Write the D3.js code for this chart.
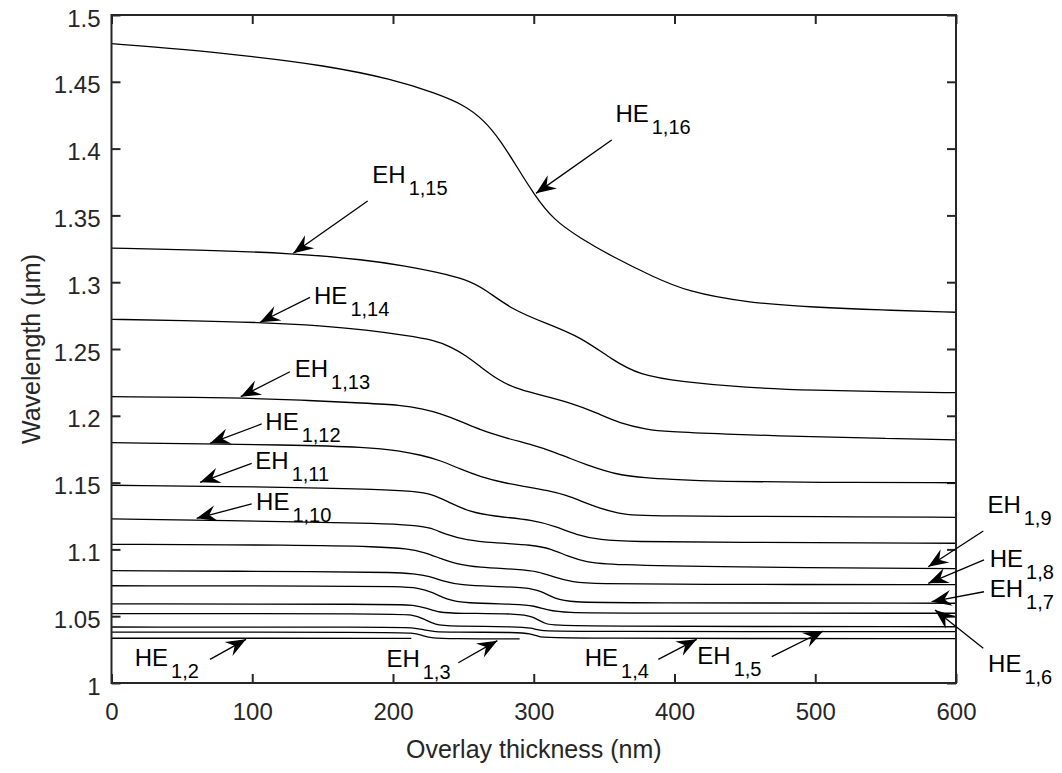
<!DOCTYPE html>
<html>
<head>
<meta charset="utf-8">
<script src="https://cdn.jsdelivr.net/npm/d3@7"></script>
<style>
  body { margin: 0; background: #fff; }
  text { font-family: "Liberation Sans", Arial, Helvetica, sans-serif; fill: #262626; }
</style>
</head>
<body>
<svg id="chart" width="1062" height="773"></svg>
<script>
// axis ticks
var thicknessTicks = [0, 100, 200, 300, 400, 500, 600];
var wavelengthTicks = [1, 1.05, 1.1, 1.15, 1.2, 1.25, 1.3, 1.35, 1.4, 1.45, 1.5];

// resonance wavelength (um) vs overlay thickness (nm)
var HE1_16 = [[0,1.4785],[50,1.4745],[100,1.4690],[150,1.4625],[200,1.4520],[230,1.4415],[250,1.4330],[265,1.4210],[276,1.4065],[288,1.3865],[300,1.3660],[314,1.3466],[333,1.3330],[356,1.3190],[385,1.3040],[409,1.2930],[451,1.2847],[500,1.2812],[546,1.2792],[600,1.2775]];
var EH1_15 = [[0,1.3255],[60,1.3243],[130,1.3216],[180,1.3168],[210,1.3120],[230,1.3078],[252,1.3022],[265,1.2950],[285,1.2792],[309,1.2692],[333,1.2592],[356,1.2418],[375,1.2305],[405,1.2255],[450,1.2210],[500,1.2190],[550,1.2180],[600,1.2173]];
var HE1_14 = [[0,1.2722],[50,1.2714],[105,1.2700],[150,1.2675],[181,1.2642],[210,1.2600],[229,1.2567],[241,1.2517],[252,1.2450],[262,1.2368],[274,1.2273],[287,1.2205],[300,1.2168],[328,1.2093],[345,1.2020],[361,1.1944],[380,1.1898],[395,1.1881],[432,1.1864],[500,1.1842],[550,1.1830],[600,1.1820]];
var EH1_13 = [[0,1.2143],[90,1.2135],[134,1.2118],[181,1.2094],[205,1.2081],[222,1.2050],[233,1.2019],[248,1.1960],[262,1.1894],[281,1.1832],[300,1.1780],[314,1.1731],[326,1.1680],[338,1.1632],[350,1.1590],[361,1.1557],[380,1.1535],[395,1.1525],[432,1.1507],[500,1.1502],[600,1.1499]];
var HE1_12 = [[0,1.1799],[134,1.1781],[180,1.1765],[205,1.1739],[220,1.1705],[233,1.1669],[248,1.1600],[262,1.1544],[280,1.1495],[295,1.1469],[310,1.1440],[323,1.1407],[335,1.1355],[347,1.1308],[360,1.1270],[371,1.1255],[400,1.1250],[432,1.1248],[500,1.1245],[600,1.1240]];
var EH1_11 = [[0,1.1480],[134,1.1465],[190,1.1450],[215,1.1435],[228,1.1415],[241,1.1345],[255,1.1280],[270,1.1250],[300,1.1220],[316,1.1170],[330,1.1110],[347,1.1070],[370,1.1058],[432,1.1053],[600,1.1046]];
var HE1_10 = [[0,1.1228],[134,1.1207],[190,1.1195],[215,1.1180],[226,1.1165],[238,1.1110],[252,1.1070],[270,1.1050],[300,1.1033],[312,1.1005],[324,1.0950],[337,1.0905],[355,1.0885],[432,1.0868],[600,1.0856]];
var EH1_9 = [[0,1.1038],[134,1.1033],[190,1.1020],[210,1.1005],[222,1.0980],[233,1.0935],[245,1.0890],[260,1.0865],[290,1.0850],[303,1.0835],[315,1.0790],[327,1.0755],[345,1.0742],[400,1.0738],[600,1.0736]];
var HE1_8 = [[0,1.0841],[162,1.0833],[200,1.0828],[215,1.0818],[226,1.0800],[236,1.0760],[248,1.0733],[270,1.0722],[295,1.0716],[305,1.0690],[315,1.0630],[327,1.0605],[360,1.0600],[600,1.0597]];
var EH1_7 = [[0,1.0728],[162,1.0726],[205,1.0722],[218,1.0712],[228,1.0680],[238,1.0625],[250,1.0597],[290,1.0590],[300,1.0578],[310,1.0545],[322,1.0526],[360,1.0523],[600,1.0522]];
var HE1_6 = [[0,1.0592],[200,1.0590],[215,1.0585],[224,1.0560],[233,1.0527],[245,1.0521],[290,1.0519],[299,1.0500],[308,1.0440],[318,1.0424],[600,1.0421]];
var EH1_5 = [[0,1.0520],[200,1.0519],[214,1.0512],[222,1.0480],[230,1.0435],[240,1.0425],[290,1.0422],[298,1.0412],[305,1.0392],[315,1.0385],[600,1.0384]];
var HE1_4 = [[0,1.0419],[200,1.0418],[214,1.0414],[222,1.0398],[230,1.0383],[240,1.0381],[290,1.0379],[297,1.0370],[304,1.0345],[312,1.0334],[600,1.0332]];
var EH1_3 = [[0,1.0381],[200,1.0380],[214,1.0376],[221,1.0355],[228,1.0335],[240,1.0331],[290,1.0330]];
var HE1_2 = [[0,1.0335],[100,1.0335],[213,1.0334]];

var modes = [HE1_16, EH1_15, HE1_14, EH1_13, HE1_12, EH1_11, HE1_10, EH1_9, HE1_8, EH1_7, HE1_6, EH1_5, HE1_4, EH1_3, HE1_2];

// mode labels: text anchor, arrow tail and arrow tip, in data units
var annotations = [
  {main: 'HE', sub: '1,16', at: [358, 1.4201], from: [355.4, 1.4064], to: [301.6, 1.3665]},
  {main: 'EH', sub: '1,15', at: [185.3, 1.3740], from: [182.0, 1.3608], to: [129.2, 1.3216]},
  {main: 'HE', sub: '1,14', at: [143.9, 1.2837], from: [141.0, 1.2887], to: [105.5, 1.2700]},
  {main: 'EH', sub: '1,13', at: [130.2, 1.2293], from: [126.8, 1.2330], to: [91.8, 1.2143]},
  {main: 'HE', sub: '1,12', at: [109.3, 1.1894], from: [106.7, 1.1939], to: [70.0, 1.1794]},
  {main: 'EH', sub: '1,11', at: [102.2, 1.1600], from: [99.6, 1.1644], to: [62.9, 1.1502]},
  {main: 'HE', sub: '1,10', at: [102.7, 1.1295], from: [99.6, 1.1340], to: [60.5, 1.1233]},
  {main: 'EH', sub: '1,9', at: [622.3, 1.1270], from: [619.4, 1.1138], to: [580.3, 1.0870]},
  {main: 'HE', sub: '1,8', at: [624.0, 1.0870], from: [619.9, 1.0921], to: [580.3, 1.0746]},
  {main: 'EH', sub: '1,7', at: [624.0, 1.0646], from: [619.9, 1.0683], to: [582.7, 1.0609]},
  {main: 'HE', sub: '1,6', at: [622.8, 1.0085], from: [619.4, 1.0260], to: [585.1, 1.0546]},
  {main: 'EH', sub: '1,5', at: [416.2, 1.0142], from: [469.1, 1.0197], to: [505.7, 1.0389]},
  {main: 'HE', sub: '1,4', at: [336.2, 1.0129], from: [388.5, 1.0177], to: [415.8, 1.0327]},
  {main: 'EH', sub: '1,3', at: [195.3, 1.0122], from: [246.4, 1.0152], to: [274.1, 1.0317]},
  {main: 'HE', sub: '1,2', at: [16.5, 1.0129], from: [70.0, 1.0177], to: [95.6, 1.0327]}
];

var plotLeft = 111.5, plotRight = 956, plotTop = 15, plotBottom = 683;
var ink = '#262626';

var svg = d3.select('#chart');

var x = d3.scaleLinear().domain([0, 600]).range([plotLeft, plotRight]);
var y = d3.scaleLinear().domain([1, 1.5]).range([plotBottom, plotTop]);

var fmt = function (d) { return String(+d.toFixed(2)); };

// axes with inward ticks on all four sides
var xAxis = svg.append('g')
  .attr('transform', 'translate(0,' + plotBottom + ')')
  .call(d3.axisBottom(x).tickValues(thicknessTicks).tickSizeInner(-9).tickSizeOuter(0).tickPadding(20).tickFormat(fmt));

var yAxis = svg.append('g')
  .attr('transform', 'translate(' + plotLeft + ',0)')
  .call(d3.axisLeft(y).tickValues(wavelengthTicks).tickSizeInner(-9).tickSizeOuter(0).tickPadding(11).tickFormat(fmt));

svg.append('g')
  .attr('transform', 'translate(0,' + plotTop + ')')
  .call(d3.axisTop(x).tickValues(thicknessTicks).tickSizeInner(-9).tickSizeOuter(0).tickFormat(''));

svg.append('g')
  .attr('transform', 'translate(' + plotRight + ',0)')
  .call(d3.axisRight(y).tickValues(wavelengthTicks).tickSizeInner(-9).tickSizeOuter(0).tickFormat(''));

svg.selectAll('.domain').remove();
svg.selectAll('.tick line').attr('stroke', ink).attr('stroke-width', 2);
svg.selectAll('.tick text')
  .attr('fill', ink)
  .style('font-size', '24px')
  .style('font-family', '"Liberation Sans", Arial, sans-serif');
yAxis.selectAll('.tick text').attr('dy', '0.46em');

// curves
var line = d3.line()
  .x(function (d) { return x(d[0]); })
  .y(function (d) { return y(d[1]); })
  .curve(d3.curveBasis);

svg.append('g')
  .selectAll('path')
  .data(modes)
  .enter()
  .append('path')
  .attr('d', line)
  .attr('fill', 'none')
  .attr('stroke', '#000')
  .attr('stroke-width', 1.3);

// box
svg.append('rect')
  .attr('x', plotLeft)
  .attr('y', plotTop)
  .attr('width', plotRight - plotLeft)
  .attr('height', plotBottom - plotTop)
  .attr('fill', 'none')
  .attr('stroke', ink)
  .attr('stroke-width', 2);

// arrows
var headLength = 20;
var headHalf = 8;
var notch = 13;

var arrowHead = function (a) {
  var tx = x(a.to[0]), ty = y(a.to[1]);
  var fx = x(a.from[0]), fy = y(a.from[1]);
  var len = Math.sqrt((fx - tx) * (fx - tx) + (fy - ty) * (fy - ty));
  var ux = (fx - tx) / len, uy = (fy - ty) / len;
  var px = -uy, py = ux;
  var pts = [
    [tx, ty],
    [tx + ux * headLength + px * headHalf, ty + uy * headLength + py * headHalf],
    [tx + ux * notch, ty + uy * notch],
    [tx + ux * headLength - px * headHalf, ty + uy * headLength - py * headHalf]
  ];
  return 'M' + pts.map(function (p) { return p[0] + ',' + p[1]; }).join('L') + 'Z';
};

var arrows = svg.append('g').selectAll('g')
  .data(annotations)
  .enter()
  .append('g');

arrows.append('line')
  .attr('x1', function (d) { return x(d.from[0]); })
  .attr('y1', function (d) { return y(d.from[1]); })
  .attr('x2', function (d) { return x(d.to[0]); })
  .attr('y2', function (d) { return y(d.to[1]); })
  .attr('stroke', '#000')
  .attr('stroke-width', 1.3);

arrows.append('path')
  .attr('d', arrowHead)
  .attr('fill', '#000');

var labels = svg.append('g').selectAll('text')
  .data(annotations)
  .enter()
  .append('text')
  .attr('x', function (d) { return x(d.at[0]); })
  .attr('y', function (d) { return y(d.at[1]); })
  .style('font-size', '24px')
  .style('fill', '#000')
  .text(function (d) { return d.main; });

labels.append('tspan')
  .attr('dx', 3)
  .attr('dy', 12)
  .style('font-size', '20px')
  .text(function (d) { return d.sub; });

// axis titles
svg.append('text')
  .attr('x', (plotLeft + plotRight) / 2)
  .attr('y', 758)
  .attr('text-anchor', 'middle')
  .style('font-size', '25px')
  .text('Overlay thickness (nm)');

svg.append('text')
  .attr('transform', 'translate(40,' + (plotTop + plotBottom) / 2 + ') rotate(-90)')
  .attr('text-anchor', 'middle')
  .style('font-size', '25px')
  .text('Wavelength (\u03bcm)');
</script>
</body>
</html>
